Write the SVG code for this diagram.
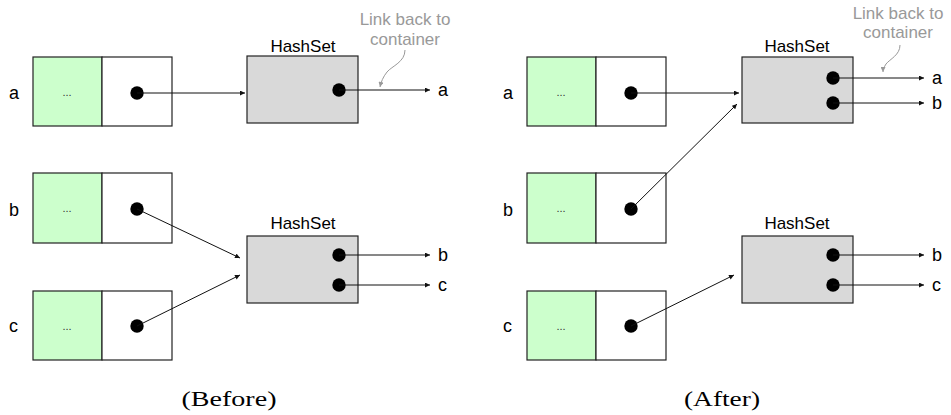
<svg xmlns="http://www.w3.org/2000/svg" width="951" height="415" viewBox="0 0 951 415">
<defs>
<marker id="ah" viewBox="0 0 10 10" refX="10" refY="5" markerWidth="6" markerHeight="5" orient="auto" markerUnits="userSpaceOnUse">
<path d="M0,0 L10,5 L0,10 z" fill="#111"/>
</marker>
<marker id="ahg" viewBox="0 0 10 10" refX="10" refY="5" markerWidth="6" markerHeight="5" orient="auto" markerUnits="userSpaceOnUse">
<path d="M0,0 L10,5 L0,10 z" fill="#999"/>
</marker>
</defs>
<style>
.lbl{font-family:"Liberation Sans",Arial,sans-serif;font-size:18px;fill:#000}
.hs{font-family:"Liberation Sans",Arial,sans-serif;font-size:17px;fill:#000;text-anchor:middle}
.note{font-family:"Liberation Sans",Arial,sans-serif;font-size:17px;fill:#999;text-anchor:middle}
.dots{font-family:"Liberation Sans",Arial,sans-serif;font-size:11px;fill:#333;text-anchor:middle}
.cap{font-family:"Liberation Serif","Times New Roman",serif;font-size:21px;fill:#000;text-anchor:middle}
.green{fill:#ccffcc;stroke:#222;stroke-width:1.2}
.white{fill:#fff;stroke:#222;stroke-width:1.2}
.set{fill:#d9d9d9;stroke:#222;stroke-width:1.2}
.dot{fill:#000}
.ln{fill:none;stroke:#111;stroke-width:1;marker-end:url(#ah)}
.gl{fill:none;stroke:#999;stroke-width:1;marker-end:url(#ahg)}
</style>
<rect width="951" height="415" fill="#fff"/>

<!-- BEFORE -->
<g id="before-container-a">
<text class="lbl" x="9" y="99">a</text>
<rect class="green" x="33" y="57" width="69" height="69"/>
<rect class="white" x="102" y="57" width="70" height="69"/>
<text class="dots" x="67" y="96">...</text>
<circle class="dot" cx="137" cy="93" r="6.7"/>
</g>
<g id="before-container-b">
<text class="lbl" x="9" y="216">b</text>
<rect class="green" x="33" y="173" width="69" height="70"/>
<rect class="white" x="102" y="173" width="70" height="70"/>
<text class="dots" x="67" y="212">...</text>
<circle class="dot" cx="137" cy="209" r="6.7"/>
</g>
<g id="before-container-c">
<text class="lbl" x="9" y="332">c</text>
<rect class="green" x="33" y="291" width="69" height="69"/>
<rect class="white" x="102" y="291" width="70" height="69"/>
<text class="dots" x="67" y="330">...</text>
<circle class="dot" cx="137" cy="326" r="6.7"/>
</g>
<g id="before-hashset-1">
<text class="hs" x="303" y="52">HashSet</text>
<rect class="set" x="247" y="56" width="111" height="67"/>
<circle class="dot" cx="339" cy="90" r="6.7"/>
<text class="lbl" x="438" y="96">a</text>
</g>
<g id="before-hashset-2">
<text class="hs" x="303" y="229">HashSet</text>
<rect class="set" x="247" y="236" width="111" height="67"/>
<circle class="dot" cx="339" cy="255" r="6.7"/>
<circle class="dot" cx="339" cy="285" r="6.7"/>
<text class="lbl" x="438" y="261">b</text>
<text class="lbl" x="438" y="291">c</text>
</g>
<g id="before-note">
<text class="note" x="405" y="25">Link back to</text>
<text class="note" x="405" y="45">container</text>
</g>
<text class="cap" x="229" y="406" textLength="95" lengthAdjust="spacingAndGlyphs">(Before)</text>

<!-- AFTER -->
<g id="after-container-a">
<text class="lbl" x="503" y="99">a</text>
<rect class="green" x="527" y="57" width="69" height="69"/>
<rect class="white" x="596" y="57" width="70" height="69"/>
<text class="dots" x="561" y="96">...</text>
<circle class="dot" cx="631" cy="93" r="6.7"/>
</g>
<g id="after-container-b">
<text class="lbl" x="503" y="216">b</text>
<rect class="green" x="527" y="173" width="69" height="70"/>
<rect class="white" x="596" y="173" width="70" height="70"/>
<text class="dots" x="561" y="212">...</text>
<circle class="dot" cx="631" cy="209" r="6.7"/>
</g>
<g id="after-container-c">
<text class="lbl" x="503" y="332">c</text>
<rect class="green" x="527" y="291" width="69" height="69"/>
<rect class="white" x="596" y="291" width="70" height="69"/>
<text class="dots" x="561" y="330">...</text>
<circle class="dot" cx="631" cy="326" r="6.7"/>
</g>
<g id="after-hashset-1">
<text class="hs" x="797" y="52">HashSet</text>
<rect class="set" x="742" y="57" width="111" height="66"/>
<circle class="dot" cx="833" cy="78" r="6.7"/>
<circle class="dot" cx="833" cy="103" r="6.7"/>
<text class="lbl" x="932" y="84">a</text>
<text class="lbl" x="932" y="109">b</text>
</g>
<g id="after-hashset-2">
<text class="hs" x="797" y="229">HashSet</text>
<rect class="set" x="742" y="236" width="111" height="67"/>
<circle class="dot" cx="833" cy="255" r="6.7"/>
<circle class="dot" cx="833" cy="285" r="6.7"/>
<text class="lbl" x="932" y="261">b</text>
<text class="lbl" x="932" y="291">c</text>
</g>
<g id="after-note">
<text class="note" x="898" y="19">Link back to</text>
<text class="note" x="898" y="38">container</text>
</g>
<text class="cap" x="722" y="406" textLength="76" lengthAdjust="spacingAndGlyphs">(After)</text>

<g id="connectors">
<!-- before -->
<line class="ln" x1="137" y1="93" x2="245" y2="93"/>
<line class="ln" x1="137" y1="209" x2="240" y2="258"/>
<line class="ln" x1="137" y1="326" x2="240" y2="275"/>
<line class="ln" x1="339" y1="90" x2="430" y2="90"/>
<line class="ln" x1="339" y1="255" x2="430" y2="255"/>
<line class="ln" x1="339" y1="285" x2="430" y2="285"/>
<path class="gl" d="M405,50 C405,62 392,66 387,72 C383,77 381,82 380,87"/>
<!-- after -->
<line class="ln" x1="631" y1="93" x2="739" y2="93"/>
<line class="ln" x1="631" y1="209" x2="737" y2="104"/>
<line class="ln" x1="631" y1="326" x2="734" y2="275"/>
<line class="ln" x1="833" y1="78" x2="924" y2="78"/>
<line class="ln" x1="833" y1="103" x2="924" y2="103"/>
<line class="ln" x1="833" y1="255" x2="924" y2="255"/>
<line class="ln" x1="833" y1="285" x2="924" y2="285"/>
<path class="gl" d="M900,45 C900,55 890,59 886,64 C884,67 883,70 883,72"/>
</g>
</svg>
